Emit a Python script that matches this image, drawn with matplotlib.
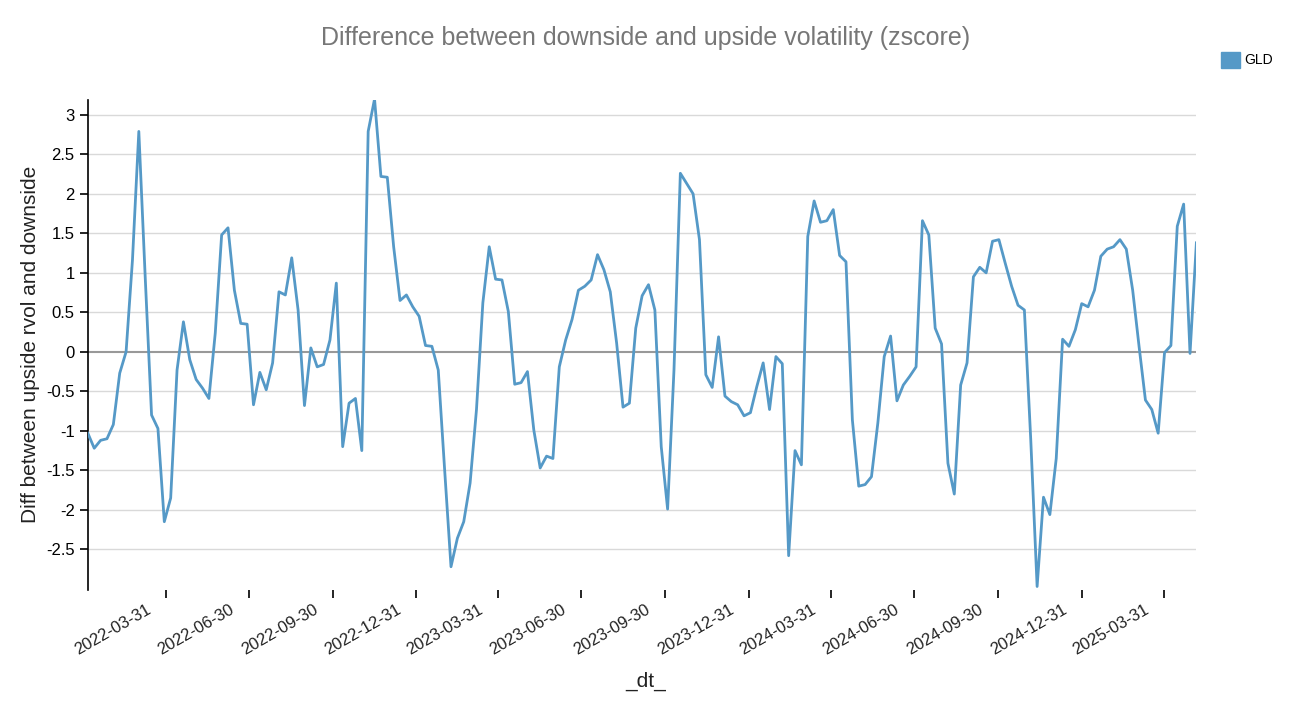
import matplotlib
matplotlib.use("Agg")
import matplotlib.pyplot as plt
import matplotlib.transforms as mtransforms
import matplotlib.dates as mdates
import pandas as pd

plt.rcParams['font.family'] = ['Liberation Sans', 'DejaVu Sans']

values = [-1.03,-1.22,-1.12,-1.10,-0.92,-0.27,0.0,1.16,2.79,0.95,-0.80,-0.97,-2.15,-1.85,-0.23,0.38,
          -0.10,-0.35,-0.46,-0.59,0.24,1.48,1.57,0.78,0.36,0.35,-0.67,-0.26,-0.48,-0.14,0.76,0.72,
          1.19,0.53,-0.68,0.05,-0.19,-0.16,0.15,0.87,-1.20,-0.65,-0.59,-1.25,2.79,3.20,2.22,2.21,
          1.33,0.65,0.72,0.57,0.45,0.08,0.07,-0.23,-1.49,-2.72,-2.36,-2.15,-1.66,-0.73,0.62,1.33,
          0.92,0.91,0.51,-0.41,-0.39,-0.25,-0.99,-1.47,-1.32,-1.35,-0.19,0.15,0.41,0.78,0.83,0.91,
          1.23,1.04,0.76,0.11,-0.70,-0.65,0.30,0.71,0.85,0.53,-1.20,-1.99,-0.23,2.26,2.13,2.00,
          1.42,-0.29,-0.45,0.19,-0.56,-0.63,-0.67,-0.81,-0.77,-0.44,-0.14,-0.73,-0.06,-0.15,-2.58,-1.25,
          -1.43,1.46,1.91,1.64,1.66,1.80,1.22,1.14,-0.86,-1.70,-1.68,-1.58,-0.90,-0.06,0.20,-0.62,
          -0.42,-0.31,-0.19,1.66,1.48,0.30,0.10,-1.41,-1.80,-0.42,-0.14,0.95,1.07,1.00,1.40,1.42,
          1.12,0.83,0.59,0.53,-1.11,-2.97,-1.84,-2.06,-1.35,0.16,0.07,0.28,0.61,0.57,0.78,1.21,
          1.30,1.33,1.42,1.30,0.78,0.07,-0.61,-0.73,-1.03,-0.01,0.08,1.59,1.87,-0.02,1.38]
dates = pd.date_range("2022-01-04", periods=len(values), freq="7D")
tick_dates = pd.date_range("2022-03-31", "2025-03-31", freq="QE")
yticks = [-2.5,-2,-1.5,-1,-0.5,0,0.5,1,1.5,2,2.5,3]

fig = plt.figure(figsize=(12.92, 7.13), dpi=100)
ax = fig.add_axes([0.068, 0.173, 0.858, 0.687])
ax.plot(dates, values, color="#5599c7", lw=2, label="GLD", zorder=3)
ax.set_xlim(dates[0], dates[-1])
ax.set_ylim(-3.01, 3.19)
ax.set_yticks(yticks)
ax.set_yticklabels([f"{v:g}" for v in yticks], fontsize=12)
for v in yticks:
    ax.axhline(v, color="#999999" if v == 0 else "#d9d9d9", lw=1.5 if v == 0 else 1, zorder=1)
ax.set_xticks(tick_dates)
ax.set_xticklabels([])
trans = mtransforms.blended_transform_factory(ax.transData, ax.transAxes) + \
    mtransforms.ScaledTranslation(-0.2, -0.12, fig.dpi_scale_trans)
for d in tick_dates:
    ax.text(mdates.date2num(d), 0, d.strftime("%Y-%m-%d"), transform=trans, rotation=30,
            ha="right", va="top", rotation_mode="anchor", fontsize=12, color="#222222")
for s in ["top", "right", "bottom"]:
    ax.spines[s].set_visible(False)
ax.spines["left"].set_linewidth(1.2)
ax.tick_params(axis="x", length=6, width=1.2)
ax.tick_params(axis="y", length=6, width=1.2)
ax.set_ylabel("Diff between upside rvol and downside", fontsize=15, color="#222222")
fig.text(0.5, 0.045, "_dt_", ha="center", va="center", fontsize=15, color="#222222")
fig.text(0.5, 0.947, "Difference between downside and upside volatility (zscore)",
         ha="center", va="center", fontsize=18, color="#777777")
fig.legend(handles=[plt.Rectangle((0, 0), 1, 1, color="#5599c7")], labels=["GLD"],
           loc="upper right", bbox_to_anchor=(0.995, 0.945), frameon=False,
           fontsize=10, handlelength=1.4, handleheight=1.4, handletextpad=0.3)
fig.savefig("out.png", dpi=100)
